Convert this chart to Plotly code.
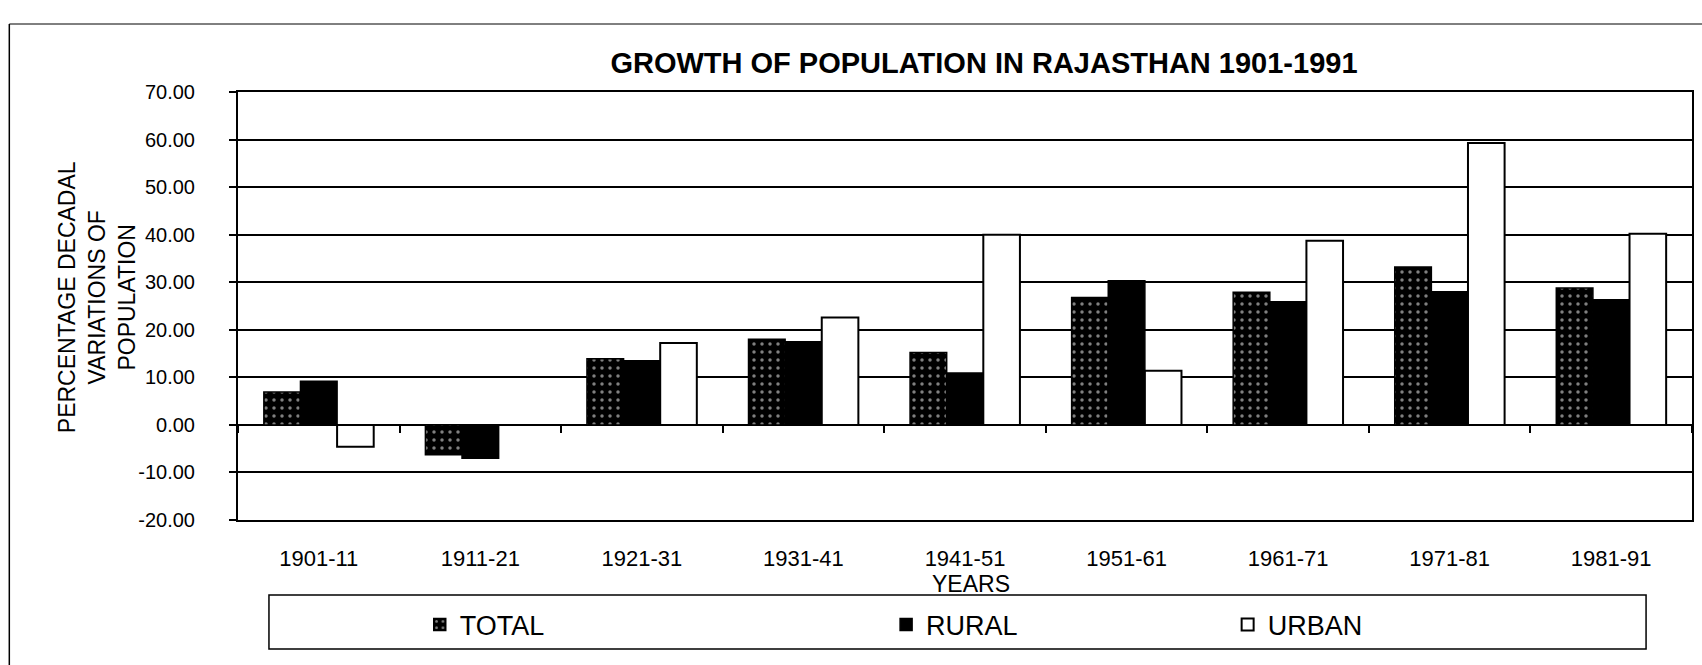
import plotly.graph_objects as go

years = ["1901-11", "1911-21", "1921-31", "1931-41", "1941-51",
         "1951-61", "1961-71", "1971-81", "1981-91"]
total = [6.9, -6.3, 13.9, 18.0, 15.2, 26.8, 27.9, 33.2, 28.8]
rural = [9.2, -7.0, 13.5, 17.5, 10.9, 30.3, 25.9, 28.0, 26.3]
urban = [-4.6, 0.0, 17.2, 22.6, 40.0, 11.4, 38.7, 59.3, 40.2]

y_ticks = [70, 60, 50, 40, 30, 20, 10, 0, -10, -20]
y_ticktext = [f"{v:.2f}" for v in y_ticks]

FONT = "Liberation Sans, Arial, sans-serif"
W, H = 1702, 665
L, R, T, B = 238, 8, 92, 145
PW, PH = W - L - R, H - T - B


def px_x(px):
    return (px - L) / PW


def px_y(py):
    return (H - B - py) / PH


fig = go.Figure()
fig.add_trace(go.Bar(
    x=years, y=total, name="TOTAL", legend="legend",
    marker=dict(color="black", line=dict(color="black", width=1.5),
                pattern=dict(shape=".", fgcolor="white", bgcolor="black",
                             size=8, solidity=0.15)),
))
fig.add_trace(go.Bar(
    x=years, y=rural, name="RURAL", legend="legend2",
    marker=dict(color="black", line=dict(color="black", width=1.5)),
))
fig.add_trace(go.Bar(
    x=years, y=urban, name="URBAN", legend="legend3",
    marker=dict(color="white", line=dict(color="black", width=2)),
))
# helper (invisible) trace to carry the category tick marks on the zero line
fig.add_trace(go.Scatter(
    x=years, y=total, xaxis="x2", mode="markers",
    marker=dict(opacity=0), showlegend=False, hoverinfo="skip",
))

leg_common = dict(orientation="h", yanchor="middle", xanchor="left",
                  y=px_y(625), bgcolor="rgba(0,0,0,0)", borderwidth=0,
                  font=dict(family=FONT, size=27, color="black"))

fig.update_layout(
    width=W, height=H,
    margin=dict(l=L, r=R, t=T, b=B),
    paper_bgcolor="white", plot_bgcolor="white",
    barmode="group", bargap=0.32, bargroupgap=0.0,
    font=dict(family=FONT, color="black"),
    title=dict(text="<b>GROWTH OF POPULATION IN RAJASTHAN 1901-1991</b>",
               x=px_x(985), xref="paper", xanchor="center",
               y=1 - 63 / H, yanchor="middle",
               font=dict(family=FONT, size=29, color="black")),
    xaxis=dict(type="category", categoryarray=years, categoryorder="array",
               range=[-0.5, 8.5], showgrid=False, zeroline=False,
               showline=True, linecolor="black", linewidth=2, mirror=True,
               ticks="", ticklabelstandoff=18,
               tickfont=dict(family=FONT, size=22, color="black")),
    xaxis2=dict(type="category", categoryarray=years, categoryorder="array",
                range=[-0.5, 8.5], anchor="free", overlaying="x",
                position=20 / 90, side="bottom",
                ticks="outside", tickson="boundaries", ticklen=7,
                tickwidth=2, tickcolor="black",
                showticklabels=False, showgrid=False, showline=False,
                zeroline=False),
    yaxis=dict(range=[-20, 70], tickvals=y_ticks, ticktext=y_ticktext,
               showgrid=True, gridcolor="black", gridwidth=1.5,
               zeroline=True, zerolinecolor="black", zerolinewidth=2,
               showline=True, linecolor="black", linewidth=2, mirror=True,
               ticks="outside", ticklen=7, tickwidth=2, tickcolor="black",
               ticklabelstandoff=30,
               tickfont=dict(family=FONT, size=20, color="black")),
    legend=dict(x=px_x(420), **leg_common),
    legend2=dict(x=px_x(887), **leg_common),
    legend3=dict(x=px_x(1229), **leg_common),
    annotations=[
        dict(text="PERCENTAGE DECADAL<br>VARIATIONS OF<br>POPULATION",
             xref="paper", yref="paper", x=px_x(97), y=px_y(297),
             xanchor="center", yanchor="middle", textangle=-90,
             showarrow=False, font=dict(family=FONT, size=23, color="black")),
        dict(text="YEARS", xref="paper", yref="paper",
             x=px_x(972), y=px_y(584), xanchor="center", yanchor="middle",
             showarrow=False, font=dict(family=FONT, size=23, color="black")),
    ],
    shapes=[
        # legend frame
        dict(type="rect", xref="paper", yref="paper",
             x0=px_x(269), x1=px_x(1648), y0=px_y(649), y1=px_y(595),
             line=dict(color="black", width=1.5), fillcolor="rgba(0,0,0,0)"),
        # outer chart frame (left and top edges visible in the scan)
        dict(type="line", xref="paper", yref="paper",
             x0=px_x(9), x1=px_x(9), y0=px_y(H + 5), y1=px_y(24),
             line=dict(color="black", width=1.5)),
        dict(type="line", xref="paper", yref="paper",
             x0=px_x(9), x1=px_x(W + 5), y0=px_y(24), y1=px_y(24),
             line=dict(color="black", width=1)),
    ],
)

fig.write_html("out.html", include_plotlyjs=True, full_html=True,
               config={"displayModeBar": False, "responsive": False},
               post_script="document.body.style.margin='0';")
